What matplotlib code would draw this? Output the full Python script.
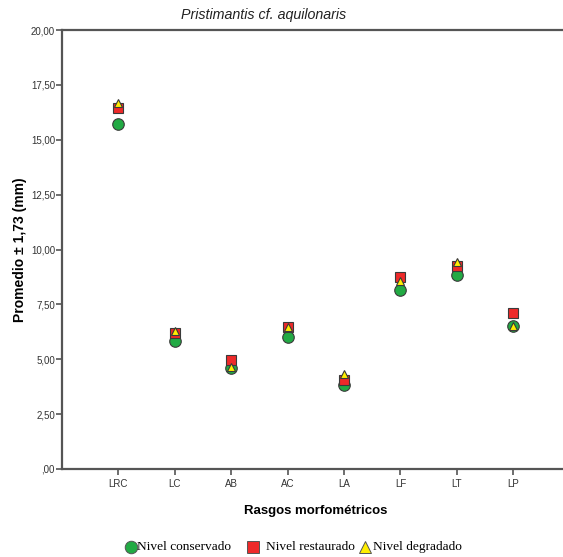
import matplotlib
matplotlib.use("Agg")
import matplotlib.pyplot as plt
from matplotlib.ticker import FixedLocator, FuncFormatter

rasgos = ["LRC", "LC", "AB", "AC", "LA", "LF", "LT", "LP"]
conservado = [15.72, 5.85, 4.60, 6.03, 3.85, 8.15, 8.84, 6.51]
restaurado = [16.45, 6.20, 4.97, 6.46, 4.05, 8.75, 9.27, 7.09]
degradado = [16.67, 6.28, 4.66, 6.46, 4.33, 8.55, 9.44, 6.52]
y_ticks = [0, 2.5, 5, 7.5, 10, 12.5, 15, 17.5, 20]

plt.rcParams["font.family"] = ["Liberation Sans", "DejaVu Sans"]

fig = plt.figure(figsize=(5.63, 5.57), dpi=100)
ax = fig.add_axes([0.110, 0.158, 0.902, 0.788])

x = list(range(1, len(rasgos) + 1))
edge = "#3a3a3a"
ax.plot(x, conservado, "o", ms=8.3, mfc="#22aa44", mec=edge, mew=0.8, ls="none", zorder=3)
ax.plot(x, restaurado, "s", ms=6.6, mfc="#ee2a2a", mec=edge, mew=0.8, ls="none", zorder=4)
ax.plot(x, degradado, "^", ms=6.3, mfc="#ffee00", mec=edge, mew=0.8, ls="none", zorder=5)

ax.set_xlim(0, 9)
ax.set_ylim(0, 20)
ax.set_xticks(x)
ax.set_xticklabels(rasgos, fontsize=7, color="#333333")
ax.yaxis.set_major_locator(FixedLocator(y_ticks))
ax.yaxis.set_major_formatter(FuncFormatter(
    lambda v, p: (",00" if v == 0 else f"{v:.2f}".replace(".", ","))))
ax.tick_params(axis="y", labelsize=7, labelcolor="#333333", direction="out", length=4,
               color="#555555", width=1.2, pad=1)
ax.tick_params(axis="x", direction="out", length=4, color="#555555", width=1.2, pad=3)
for s in ax.spines.values():
    s.set_color("#555555")
    s.set_linewidth(1.6)

fig.text(264 / 563, 1 - 15 / 557, "Pristimantis cf. aquilonaris", fontsize=10.3,
         style="italic", ha="center", va="center", color="#222222")
ax.set_xlabel("Rasgos morfométricos", fontsize=9.5, fontweight="bold", labelpad=12)
ax.set_ylabel("Promedio ± 1,73 (mm)", fontsize=10, fontweight="bold", labelpad=3)

serif = {"family": ["Liberation Serif", "DejaVu Serif"], "size": 9.6}
ax_leg = fig.add_axes([0, 0, 1, 1], facecolor="none")
ax_leg.set_xlim(0, 563)
ax_leg.set_ylim(557, 0)
ax_leg.axis("off")
leg_items = [("o", "#22aa44", 9, "Nivel conservado", 131, 137),
             ("s", "#ee2a2a", 8, "Nivel restaurado", 253, 266),
             ("^", "#ffee00", 9, "Nivel degradado", 365, 373)]
for m, c, ms, lab, px, tx in leg_items:
    ax_leg.plot([px], [547], m, ms=ms, mfc=c, mec="#555555", mew=0.7, clip_on=False)
    ax_leg.text(tx, 547, lab, va="center", ha="left", fontdict=serif)

fig.savefig("out.png", dpi=100)
